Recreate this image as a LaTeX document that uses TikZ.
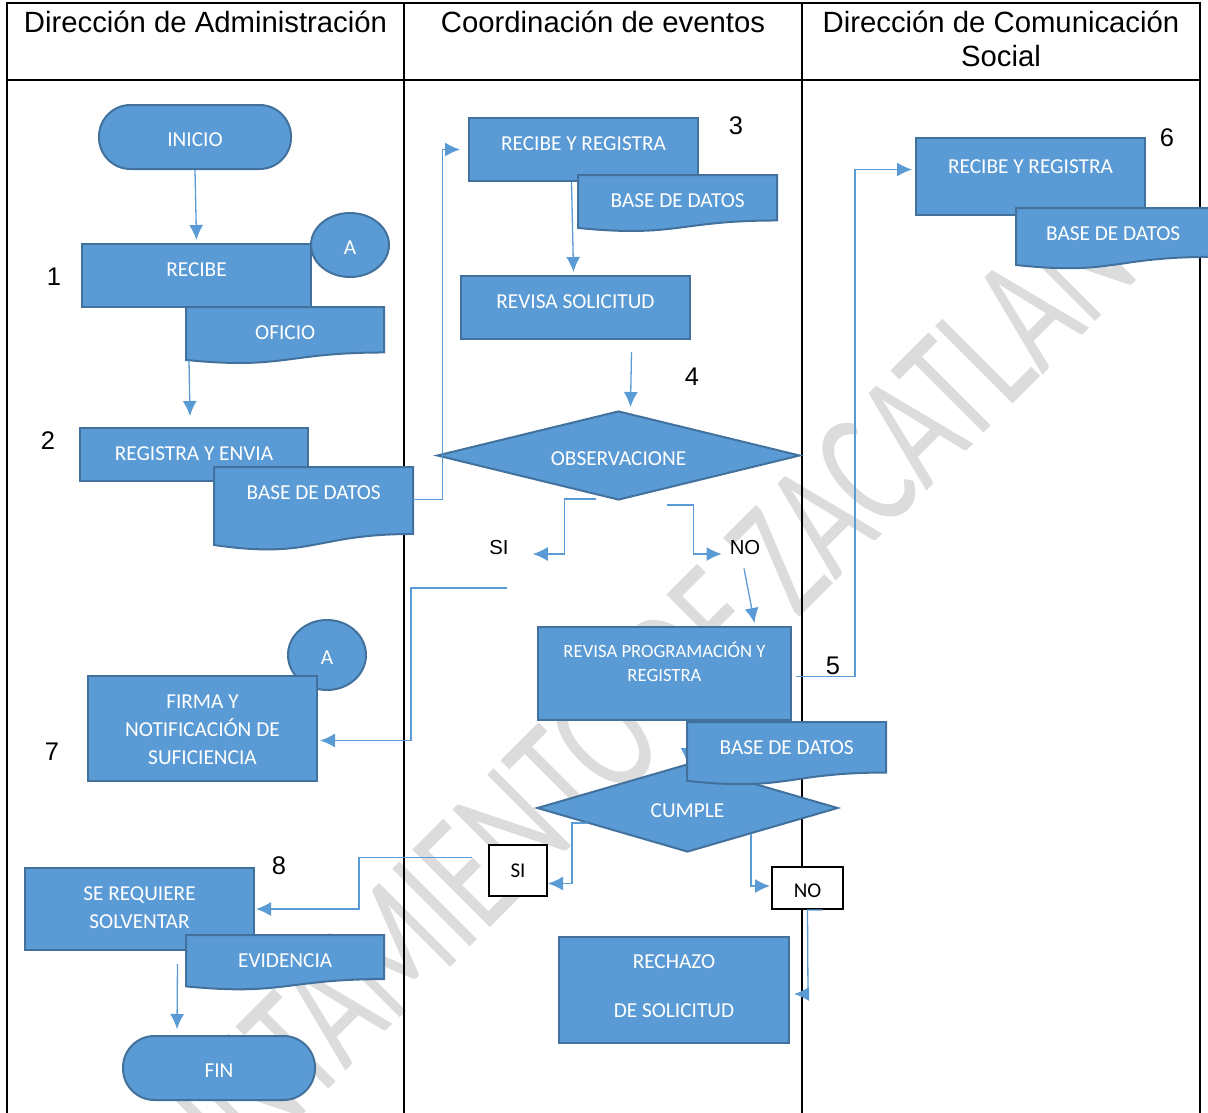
\documentclass[tikz,border=0pt]{standalone}
\usepackage{fontspec}
\setmainfont{Liberation Sans}
\newfontfamily\carlito{Carlito}
\usetikzlibrary{shapes.geometric,arrows.meta}
\definecolor{boxblue}{HTML}{5B9BD5}
\definecolor{boxedge}{HTML}{41719C}
\definecolor{linkblue}{HTML}{5B9BD5}
\definecolor{wmgray}{HTML}{DCDCDC}
% documento con borde ondulado: nombre, izquierda, arriba, ancho, alto, texto
\newcommand{\docu}[6]{%
  \draw[docline] (#2,#3) -- (#2+#4,#3) -- (#2+#4,#3+0.802*#5)
    .. controls (#2+0.5*#4,#3+0.802*#5) and (#2+0.5*#4,#3+1.107*#5) .. (#2,#3+0.934*#5) -- cycle;
  \pgfmathsetmacro\docdepth{#5-32}
  \node[doctext, minimum width=#4pt, text depth=\docdepth pt] (#1) at (#2,#3) {#6};}

\begin{document}
\begin{tikzpicture}[x=1pt,y=-1pt,
    frame/.style={line width=2pt},
    head/.style={font=\fontsize{29.3}{34}\selectfont,align=center,anchor=base},
    proc/.style={rectangle,draw=boxedge,fill=boxblue,line width=2pt,text=white,
      font=\carlito\fontsize{21.3}{28}\selectfont,align=center,inner sep=0pt,
      text height=32pt,anchor=north west},
    doctext/.style={text=white,font=\carlito\fontsize{21.3}{24}\selectfont,
      inner sep=0pt,text height=32pt,anchor=north west},
    docline/.style={draw=boxedge,fill=boxblue,line width=2pt},
    term/.style={rectangle,rounded corners=31.5pt,draw=boxedge,fill=boxblue,line width=2pt,
      text=white,font=\carlito\fontsize{21.3}{24}\selectfont,minimum width=192pt,minimum height=64pt,
      text height=19.7pt,text depth=0pt},
    conn/.style={ellipse,draw=boxedge,fill=boxblue,line width=2pt,text=white,
      font=\carlito\fontsize{21.3}{24}\selectfont,minimum width=78pt,inner sep=0pt,
      text height=19.7pt,text depth=0pt},
    decision/.style={diamond,draw=boxedge,fill=boxblue,line width=2pt,text=white,
      font=\carlito\fontsize{21.3}{24}\selectfont,inner sep=0pt,
      text height=19.7pt,text depth=0pt},
    optbox/.style={rectangle,draw=black,fill=white,line width=2pt,inner sep=0pt,
      font=\carlito\fontsize{21}{24}\selectfont},
    lbl/.style={font=\fontsize{20.3}{24}\selectfont,inner sep=1pt},
    num/.style={font=\fontsize{25.5}{28}\selectfont},
    wm/.style={text=wmgray,font=\carlito\fontsize{171}{171}\selectfont,inner sep=0pt},
    flow/.style={draw=linkblue,line width=1.3pt,-{Latex[length=15pt,width=14pt]}}]
    \useasboundingbox (0,0) rectangle (1208,1112);
    % marca de agua
    \begin{scope}
        \clip (0,0) rectangle (1208,1112);
        \node[wm,rotate=45] (marca) at (595,745) {\scalebox{0.68}[1]{AYUNTAMIENTO DE ZACATLAN}};
    \end{scope}
    % tabla
    \draw[frame] (7,1114) -- (7,3) -- (1200,3) -- (1200,1114);
    \draw[frame] (7,80) -- (1200,80);
    \draw[frame] (404,3) -- (404,1114);
    \draw[frame] (802,3) -- (802,1114);
    \node[head] (h1) at (205.5,32.5) {Dirección de Administración};
    \node[head] (h2) at (603,32.5) {Coordinación de eventos};
    \node[head] (h3) at (1001,66) {Dirección de Comunicación\\Social};
    % Dirección de Administración
    \node[term] (ini) at (195,137) {INICIO};
    \node[conn,minimum height=64pt] (a1) at (350,245) {A};
    \node[proc,minimum width=229pt,text depth=31pt] (rec) at (81,243) {RECIBE};
    \docu{ofi}{186}{307}{198}{56.7}{OFICIO}
    \node[proc,minimum width=228pt,text depth=21pt] (rg) at (79,427) {REGISTRA Y ENVIA};
    \docu{bd1}{214}{467}{199}{83.5}{BASE DE DATOS}
    \node[conn,minimum height=70pt] (a2) at (327,655) {A};
    \node[proc,minimum width=229pt,text height=88pt,text depth=17pt] (fn) at (87,675) {FIRMA Y\\NOTIFICACIÓN DE\\SUFICIENCIA};
    \node[proc,minimum width=229pt,text height=60pt,text depth=22pt] (sr) at (24,867) {SE REQUIERE\\SOLVENTAR};
    \docu{evi}{186}{935}{198}{55}{EVIDENCIA}
    \node[term] (fin) at (219,1068) {FIN};
    % Coordinación de eventos
    \node[proc,minimum width=229pt,text depth=31pt] (rr2) at (468,117) {RECIBE Y REGISTRA};
    \docu{bd2}{578}{175}{199}{56.7}{BASE DE DATOS}
    \node[proc,minimum width=229pt,text depth=31pt] (rs) at (460,275) {REVISA SOLICITUD};
    \node[decision,aspect=4,minimum width=363pt,minimum height=89pt] (obs) at (618.5,455.5) {OBSERVACIONE};
    \node[lbl] (si1) at (499,548) {SI};
    \node[lbl] (no1) at (745,548) {NO};
    \coordinate (obsi) at (507,588);
    \node[proc,minimum width=253pt,text height=54pt,text depth=39pt,
      font=\carlito\fontsize{18.7}{24}\selectfont] (rp) at (537,626) {REVISA PROGRAMACIÓN Y\\REGISTRA};
    \node[decision,aspect=3.4,minimum width=301pt,minimum height=88pt] (cum) at (687.5,808) {CUMPLE};
    \draw[flow] (rp.south -| cum.north) -- (cum.north);
    \docu{bd4}{687}{722}{199}{63}{BASE DE DATOS}
    \node[optbox,minimum width=58pt,minimum height=51pt] (si2) at (518,870.5) {SI};
    \node[optbox,minimum width=71pt,minimum height=42pt,text height=19.5pt,text depth=0pt] (no2) at (807.5,888) {NO};
    \node[proc,minimum width=230pt,text height=80pt,text depth=26pt] (rz) at (558,936) {RECHAZO\\[21pt]DE SOLICITUD};
    % Dirección de Comunicación Social
    \node[proc,minimum width=229pt,text height=35pt,text depth=42pt] (rr3) at (915,137) {RECIBE Y REGISTRA};
    \docu{bd3}{1016}{208}{194}{61}{BASE DE DATOS}
    % flujo
    \draw[flow] (ini.south) -- ([yshift=3pt]rec.north);
    \draw[flow] ([xshift=3pt,yshift=3.7pt]ofi.south west) -- ([xshift=-4pt,yshift=11pt]rg.north);
    \draw[flow] (bd1.base east) -- ++(29,0) |- ([xshift=-8pt]rr2.west);
    \draw[flow] ([xshift=-12pt]rr2.south) -- ([xshift=-2pt,yshift=3pt]rs.north);
    \draw[flow] ([xshift=56pt,yshift=-12pt]rs.south) -- ([xshift=12pt,yshift=3pt]obs.north);
    \draw[flow] ([xshift=-23pt,yshift=2pt]obs.south) -- ++(-31,0) |- ([xshift=23pt,yshift=-6pt]si1.east);
    \draw[flow] ([xshift=48pt,yshift=-4pt]obs.south) -- ++(27,0) |- ([xshift=-7pt,yshift=-6pt]no1.west);
    \draw[flow] ([xshift=-1pt,yshift=-12pt]no1.south) -- ([xshift=90pt,yshift=3pt]rp.north);
    \draw[flow] ([xshift=4pt,yshift=-3pt]rp.east) -- ++(59,0) |- ([xshift=-3pt,yshift=7pt]rr3.west);
    \draw[flow] (obsi) -- ++(-96,0) |- ([xshift=2pt,yshift=-12pt]fn.east);
    \draw[flow] ([xshift=52pt,yshift=-15pt]cum.west) -- ++(-16,0) |- ([yshift=-13pt]si2.east);
    \draw[flow] ([xshift=-16pt,yshift=13pt]si2.west) -- ++(-113,0) |- ([xshift=1pt]sr.east);
    \draw[flow] ([xshift=-88pt,yshift=-26pt]cum.east) |- ([xshift=-1pt,yshift=2pt]no2.west);
    \draw[flow] ([xshift=15pt]no2.south) -- (no2.south) -- ([xshift=18pt,yshift=-4pt]rz.east) -- ([xshift=4pt,yshift=-4pt]rz.east);
    \draw[flow] ([xshift=38pt,yshift=-13pt]sr.south) -- ([xshift=-42pt,yshift=6pt]fin.north);
    % pasos
    \node[num] (n1) at (54,277) {1};
    \node[num] (n2) at (48,441) {2};
    \node[num] (n3) at (736,126) {3};
    \node[num] (n4) at (692,377) {4};
    \node[num] (n5) at (833,666) {5};
    \node[num] (n6) at (1167,138) {6};
    \node[num] (n7) at (52,752) {7};
    \node[num] (n8) at (279,866) {8};
\end{tikzpicture}
\end{document}
